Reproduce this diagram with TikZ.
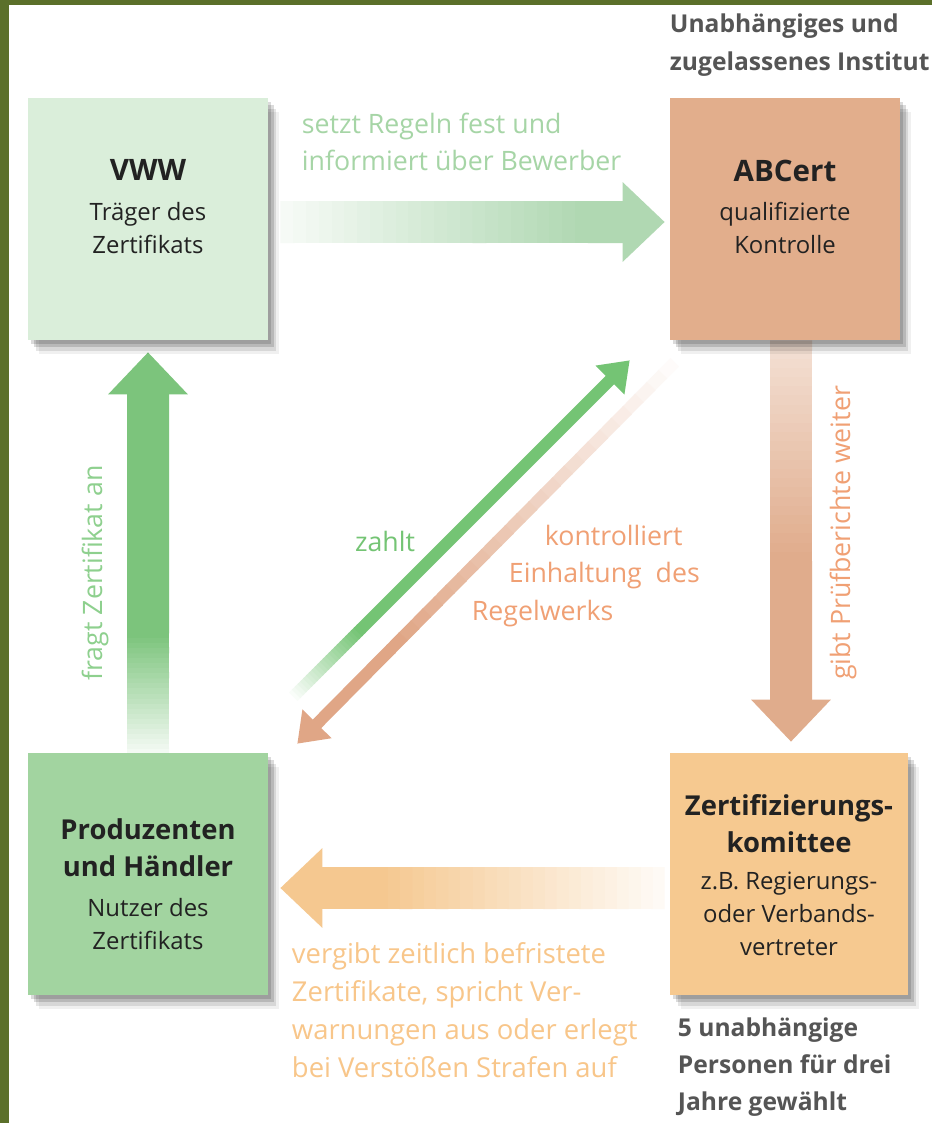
\documentclass[tikz,border=0pt]{standalone}
\usepackage{fontspec}
\setmainfont{Open Sans}
\usetikzlibrary{arrows.meta,calc,shadows,backgrounds}

\definecolor{framegreen}{HTML}{5B702A}
\definecolor{vwwfill}{HTML}{DAEEDA}
\definecolor{abfill}{HTML}{E2AE8C}
\definecolor{prodfill}{HTML}{A2D4A0}
\definecolor{zertfill}{HTML}{F6C990}
\definecolor{rulegreen}{HTML}{B0D8B2}
\definecolor{rulegreentext}{HTML}{A6D5A6}
\definecolor{askgreen}{HTML}{7CC47C}
\definecolor{askgreentext}{HTML}{8ED08E}
\definecolor{paygreen}{HTML}{74C474}
\definecolor{checkorange}{HTML}{E0A686}
\definecolor{checkorangetext}{HTML}{F0A074}
\definecolor{reportorange}{HTML}{E0AC8C}
\definecolor{awardorange}{HTML}{F5C890}
\definecolor{awardorangetext}{HTML}{F8C68A}
\definecolor{notegray}{HTML}{555555}
\definecolor{boxink}{HTML}{222222}

\newcommand{\titlefont}{\fontsize{21}{26}\selectfont\bfseries}
\newcommand{\namefont}{\fontsize{19.5}{26}\selectfont\bfseries}

% shaft drawn in pieces, pale at the start
\newcommand{\fadearrow}[6]{%
  \foreach \k in {1,...,24}{
    \pgfmathsetmacro{\fa}{(\k-1)/24*#5}
    \pgfmathsetmacro{\fb}{\k/24*#5+0.003}
    \pgfmathsetmacro{\pc}{#6+(100-#6)*\k/24}
    \draw[#1, draw=#4!\pc!white] ($(#2)!\fa!(#3)$) -- ($(#2)!\fb!(#3)$);
  }
  \draw[#1, draw=#4, #1 tip] ($(#2)!#5!(#3)$) -- (#3);
}

\tikzset{
  box/.style={minimum width=60mm, minimum height=60.5mm, inner sep=0pt,
    drop shadow={shadow xshift=2pt, shadow yshift=-2.5pt, opacity=0.14, fill=black},
    drop shadow={shadow xshift=4pt, shadow yshift=-5pt, opacity=0.14, fill=black},
    drop shadow={shadow xshift=6pt, shadow yshift=-7.5pt, opacity=0.1, fill=black},
    drop shadow={shadow xshift=8pt, shadow yshift=-10pt, opacity=0.06, fill=black}},
  boxtext/.style={align=center, text=boxink, font=\fontsize{17}{23.5}\selectfont},
  lbl/.style={align=left, font=\fontsize{19}{26.5}\selectfont},
  note/.style={align=left, text=notegray, font=\fontsize{17.5}{26.5}\selectfont\bfseries},
  bigshaft/.style={line width=10.5mm},
  bigshaft tip/.style={-{Triangle[width=19.25mm,length=10.5mm]}},
  thinshaft/.style={line width=3mm},
  thinshaft tip/.style={-{Triangle[width=9.75mm,length=7mm]}}
}

\begin{document}
\begin{tikzpicture}[x=0.25mm, y=-0.25mm]
    \useasboundingbox (0,0) rectangle (932,1123);

    %% the four parties
    \node[box, fill=vwwfill] (vww) at (148,219) {};
    \node[box, fill=abfill, minimum width=57.5mm] (abcert) at (785,219) {};
    \node[box, fill=prodfill] (prod) at (148,874) {};
    \node[box, fill=zertfill, minimum width=59.5mm] (zert) at (789,874) {};

    \node[boxtext] (vwwtext) at (148,207) {{\titlefont VWW}\\[5pt]Träger des\\Zertifikats};
    \node[boxtext] (abtext) at (785,207) {{\titlefont ABCert}\\[4pt]qualifizierte\\Kontrolle};
    \node[boxtext] (prodtext) at (148,884)
        {{\namefont Produzenten}\\[3pt]{\namefont und Händler}\\[5pt]Nutzer des\\Zertifikats};
    \node[boxtext] (zerttext) at (789,875)
        {{\namefont Zertifizierungs-}\\[3pt]{\namefont komittee}\\[3pt]z.B. Regierungs-\\oder Verbands-\\vertreter};

    %% notes beside the boxes
    \node[note, anchor=west] (institut) at (665,45) {Unabhängiges und\\zugelassenes Institut};
    \node[note, anchor=west] (personen) at (673,1067) {5 unabhängige\\Personen für drei\\Jahre gewählt};

    %% arrows
    \begin{scope}[on background layer]
        \fill[white] (0,0) rectangle (932,1123);
        \fill[framegreen] (0,0) rectangle (9,1123);
        \fill[framegreen] (0,0) rectangle (932,5);

        \fadearrow{bigshaft}{$(vww.east)+(12,3)$}{$(abcert.west)+(-5,3)$}{rulegreen}{0.8}{8}
        \fadearrow{bigshaft}{$(prod.north)+(0,1)$}{$(vww.south)+(0,12)$}{askgreen}{0.3}{5}
        \fadearrow{bigshaft}{$(abcert.south)+(6,0)$}{$(zert.north)+(2,-11)$}{reportorange}{0.55}{35}
        \fadearrow{bigshaft}{$(zert.west)+(-5,14)$}{$(prod.east)+(12,14)$}{awardorange}{0.75}{5}

        \coordinate (paystart) at ($(prod.north east)+(25,-56)$);
        \coordinate (payend) at ($(abcert.south west)+(-40,20)$);
        \coordinate (checkstart) at ($(abcert.south west)+(5,22)$);
        \coordinate (checkend) at ($(prod.north east)+(29,-9)$);
        \fadearrow{thinshaft}{paystart}{payend}{paygreen}{0.2}{0}
        \fadearrow{thinshaft}{checkstart}{checkend}{checkorange}{0.75}{0}
    \end{scope}

    %% arrow labels
    \node[lbl, text=rulegreentext, anchor=west] (rulestext) at (297,142)
        {setzt Regeln fest und\\informiert über Bewerber};
    \node[lbl, text=askgreentext, rotate=90] (asktext) at (95,573) {fragt Zertifikat an};
    \node[lbl, text=checkorangetext, rotate=90] (reporttext) at (843,533) {gibt Prüfberichte weiter};
    \node[lbl, text=paygreen] (paytext) at (385,541) {zahlt};
    \node[lbl, text=checkorangetext, anchor=west] (checktext) at (467,576)
        {\hspace*{18.25mm}kontrolliert\\\hspace*{9.25mm}Einhaltung\ \ des\\Regelwerks};
    \node[lbl, text=awardorangetext, anchor=west, font=\fontsize{19.5}{27}\selectfont] (awardtext) at (287,1010)
        {vergibt zeitlich befristete\\Zertifikate, spricht Ver-\\warnungen aus oder erlegt\\bei Verstößen Strafen auf};
\end{tikzpicture}
\end{document}
